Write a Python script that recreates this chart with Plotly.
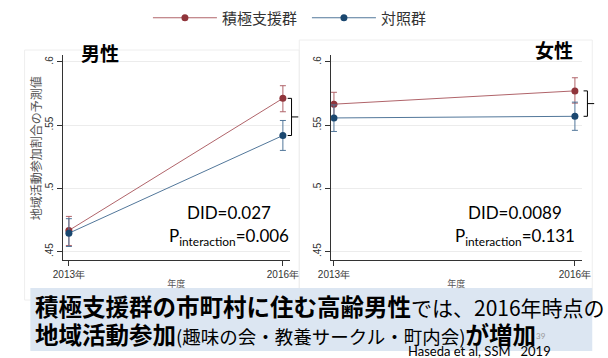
import plotly.graph_objects as go

W, H = 608, 358

# ---------------- data ----------------
years = ["2013年", "2016年"]
series_names = ["積極支援群", "対照群"]

male_treat = [0.4667, 0.5712]
male_treat_lo = [0.4548, 0.5606]
male_treat_hi = [0.4778, 0.5812]
male_ctrl = [0.4645, 0.5418]
male_ctrl_lo = [0.4540, 0.5300]
male_ctrl_hi = [0.4760, 0.5537]

female_treat = [0.5666, 0.5771]
female_treat_lo = [0.5568, 0.5674]
female_treat_hi = [0.5760, 0.5875]
female_ctrl = [0.5557, 0.5570]
female_ctrl_lo = [0.5450, 0.5459]
female_ctrl_hi = [0.5660, 0.5682]

ytick_vals = [0.45, 0.5, 0.55, 0.6]
ytick_text = [".45", ".5", ".55", ".6"]

panel_titles = ["男性", "女性"]
did_text = ["DID=0.027", "DID=0.0089"]
p_text = ["P<sub>interaction</sub>=0.006", "P<sub>interaction</sub>=0.131"]
y_title = "地域活動参加割合の予測値"
x_title = "年度"

RED = "#90353b"
BLUE = "#1a476f"
RED_L = "#b0646a"
BLUE_L = "#52779a"
JP = "Noto Sans CJK JP"
LAT = "Lato"


def px(x):
    return x / W


def py(y):
    return 1 - y / H


def err(vals, lo, hi):
    return dict(type="data", symmetric=False,
                array=[h - v for v, h in zip(vals, hi)],
                arrayminus=[v - l for v, l in zip(vals, lo)],
                thickness=1, width=3)


fig = go.Figure()

panels = [
    ("x", "y", male_treat, male_treat_lo, male_treat_hi, male_ctrl, male_ctrl_lo, male_ctrl_hi, True),
    ("x2", "y2", female_treat, female_treat_lo, female_treat_hi, female_ctrl, female_ctrl_lo, female_ctrl_hi, False),
]
for xa, ya, t, tl, th, c, cl, ch, show in panels:
    fig.add_trace(go.Scatter(
        x=years, y=t, xaxis=xa, yaxis=ya, name=series_names[0], mode="lines+markers",
        line=dict(color=RED_L, width=1), marker=dict(color=RED, size=7),
        error_y=dict(color=RED_L, **err(t, tl, th)), showlegend=show, legendrank=1))
    fig.add_trace(go.Scatter(
        x=years, y=c, xaxis=xa, yaxis=ya, name=series_names[1], mode="lines+markers",
        line=dict(color=BLUE_L, width=1), marker=dict(color=BLUE, size=7),
        error_y=dict(color=BLUE_L, **err(c, cl, ch)), showlegend=show, legendrank=2))

ydom = [py(259.5), py(55)]
yrange = [0.4437, 0.6055]

common_x = dict(type="category", categoryorder="array", categoryarray=years,
                showline=True, linecolor="#333", linewidth=1, ticks="outside",
                ticklen=5, tickcolor="#333", tickfont=dict(family="Liberation Sans", size=10, color="#333"),
                showgrid=False, zeroline=False,
                title=dict(text=x_title, font=dict(family=JP, size=9, color="#555"), standoff=2))
common_y = dict(range=yrange, domain=ydom, tickvals=ytick_vals, ticktext=ytick_text,
                tickangle=-90, showline=True, linecolor="#333", linewidth=1,
                ticks="outside", ticklen=5, tickcolor="#333",
                tickfont=dict(family="Liberation Sans", size=10, color="#333"),
                showgrid=True, gridcolor="#ececec", gridwidth=1, zeroline=False)

fig.update_layout(
    xaxis=dict(domain=[px(52), px(287)], range=[-0.027, 1.0315], anchor="y", **common_x),
    yaxis=dict(anchor="x", **common_y),
    xaxis2=dict(domain=[px(330), px(590)], range=[-0.012, 1.028], anchor="y2", **common_x),
    yaxis2=dict(anchor="x2", **common_y),
)

shapes = []
# panel frames
shapes.append(dict(type="rect", xref="paper", yref="paper", x0=px(12), x1=px(297),
                   y0=py(300), y1=py(50), line=dict(color="#eeeeee", width=1), layer="below"))
shapes.append(dict(type="rect", xref="paper", yref="paper", x0=px(297), x1=px(601),
                   y0=py(300), y1=py(40), line=dict(color="#eeeeee", width=1), layer="below"))

# brackets between 2016 estimates
for ya, t, c, xv in [("y", male_treat, male_ctrl, 289), ("y2", female_treat, female_ctrl, 596)]:
    y1, y2 = t[1], c[1]
    shapes.append(dict(type="path", xref="paper", yref=ya,
                       path=f"M {px(xv-4)},{y1} L {px(xv)},{y1} L {px(xv)},{y2} L {px(xv-4)},{y2}",
                       line=dict(color="black", width=1)))
    shapes.append(dict(type="line", xref="paper", yref=ya, x0=px(xv), x1=px(xv + 7),
                       y0=(y1 + y2) / 2, y1=(y1 + y2) / 2, line=dict(color="black", width=1)))

# bottom banner
shapes.append(dict(type="rect", xref="paper", yref="paper", x0=px(18), x1=px(601),
                   y0=py(351), y1=py(288), fillcolor="#dce6f2", line=dict(width=0), layer="above"))


def ann(text, x, y, size, family=JP, color="black", xanchor="center", yanchor="middle", **kw):
    return dict(text=text, x=px(x), y=py(y), xref="paper", yref="paper", xanchor=xanchor,
                yanchor=yanchor, showarrow=False, font=dict(family=family, size=size, color=color), **kw)


annotations = [
    ann(f"<b>{panel_titles[0]}</b>", 90, 53, 19),
    ann(f"<b>{panel_titles[1]}</b>", 561, 49, 19),
    ann(y_title, 23, 148, 12, color="#555", textangle=-90),
]
for cx, i in [(224, 0), (521, 1)]:
    annotations.append(ann(did_text[i], cx, 213, 17, family=LAT))
    annotations.append(ann(p_text[i], cx, 237, 17, family=LAT))

line1 = "<b>積極支援群の市町村に住む高齢男性</b><span style='font-size:21px'>では、2016年時点の</span>"
line2 = ("<b>地域活動参加</b><span style='font-size:18.5px'>(趣味の会・教養サークル・町内会)</span>"
         "<b>が増加</b>")
annotations.append(ann(line1, 21, 306, 23.5, xanchor="left"))
annotations.append(ann(line2, 21, 334, 23.5, xanchor="left"))
annotations.append(ann("39", 548, 336, 8, family=LAT, color="#999"))
annotations.append(ann("Haseda et al, SSM   2019", 560, 351, 13, family=LAT, xanchor="right"))

fig.update_layout(
    width=W, height=H, margin=dict(l=0, r=0, t=0, b=0),
    paper_bgcolor="white", plot_bgcolor="white",
    shapes=shapes, annotations=annotations,
    legend=dict(orientation="h", x=px(140), y=py(18), xanchor="left", yanchor="middle",
                font=dict(family=JP, size=15, color="#333"), bgcolor="rgba(0,0,0,0)",
                itemwidth=64, entrywidth=80, traceorder="normal"),
)

fig.write_html("out.html")
